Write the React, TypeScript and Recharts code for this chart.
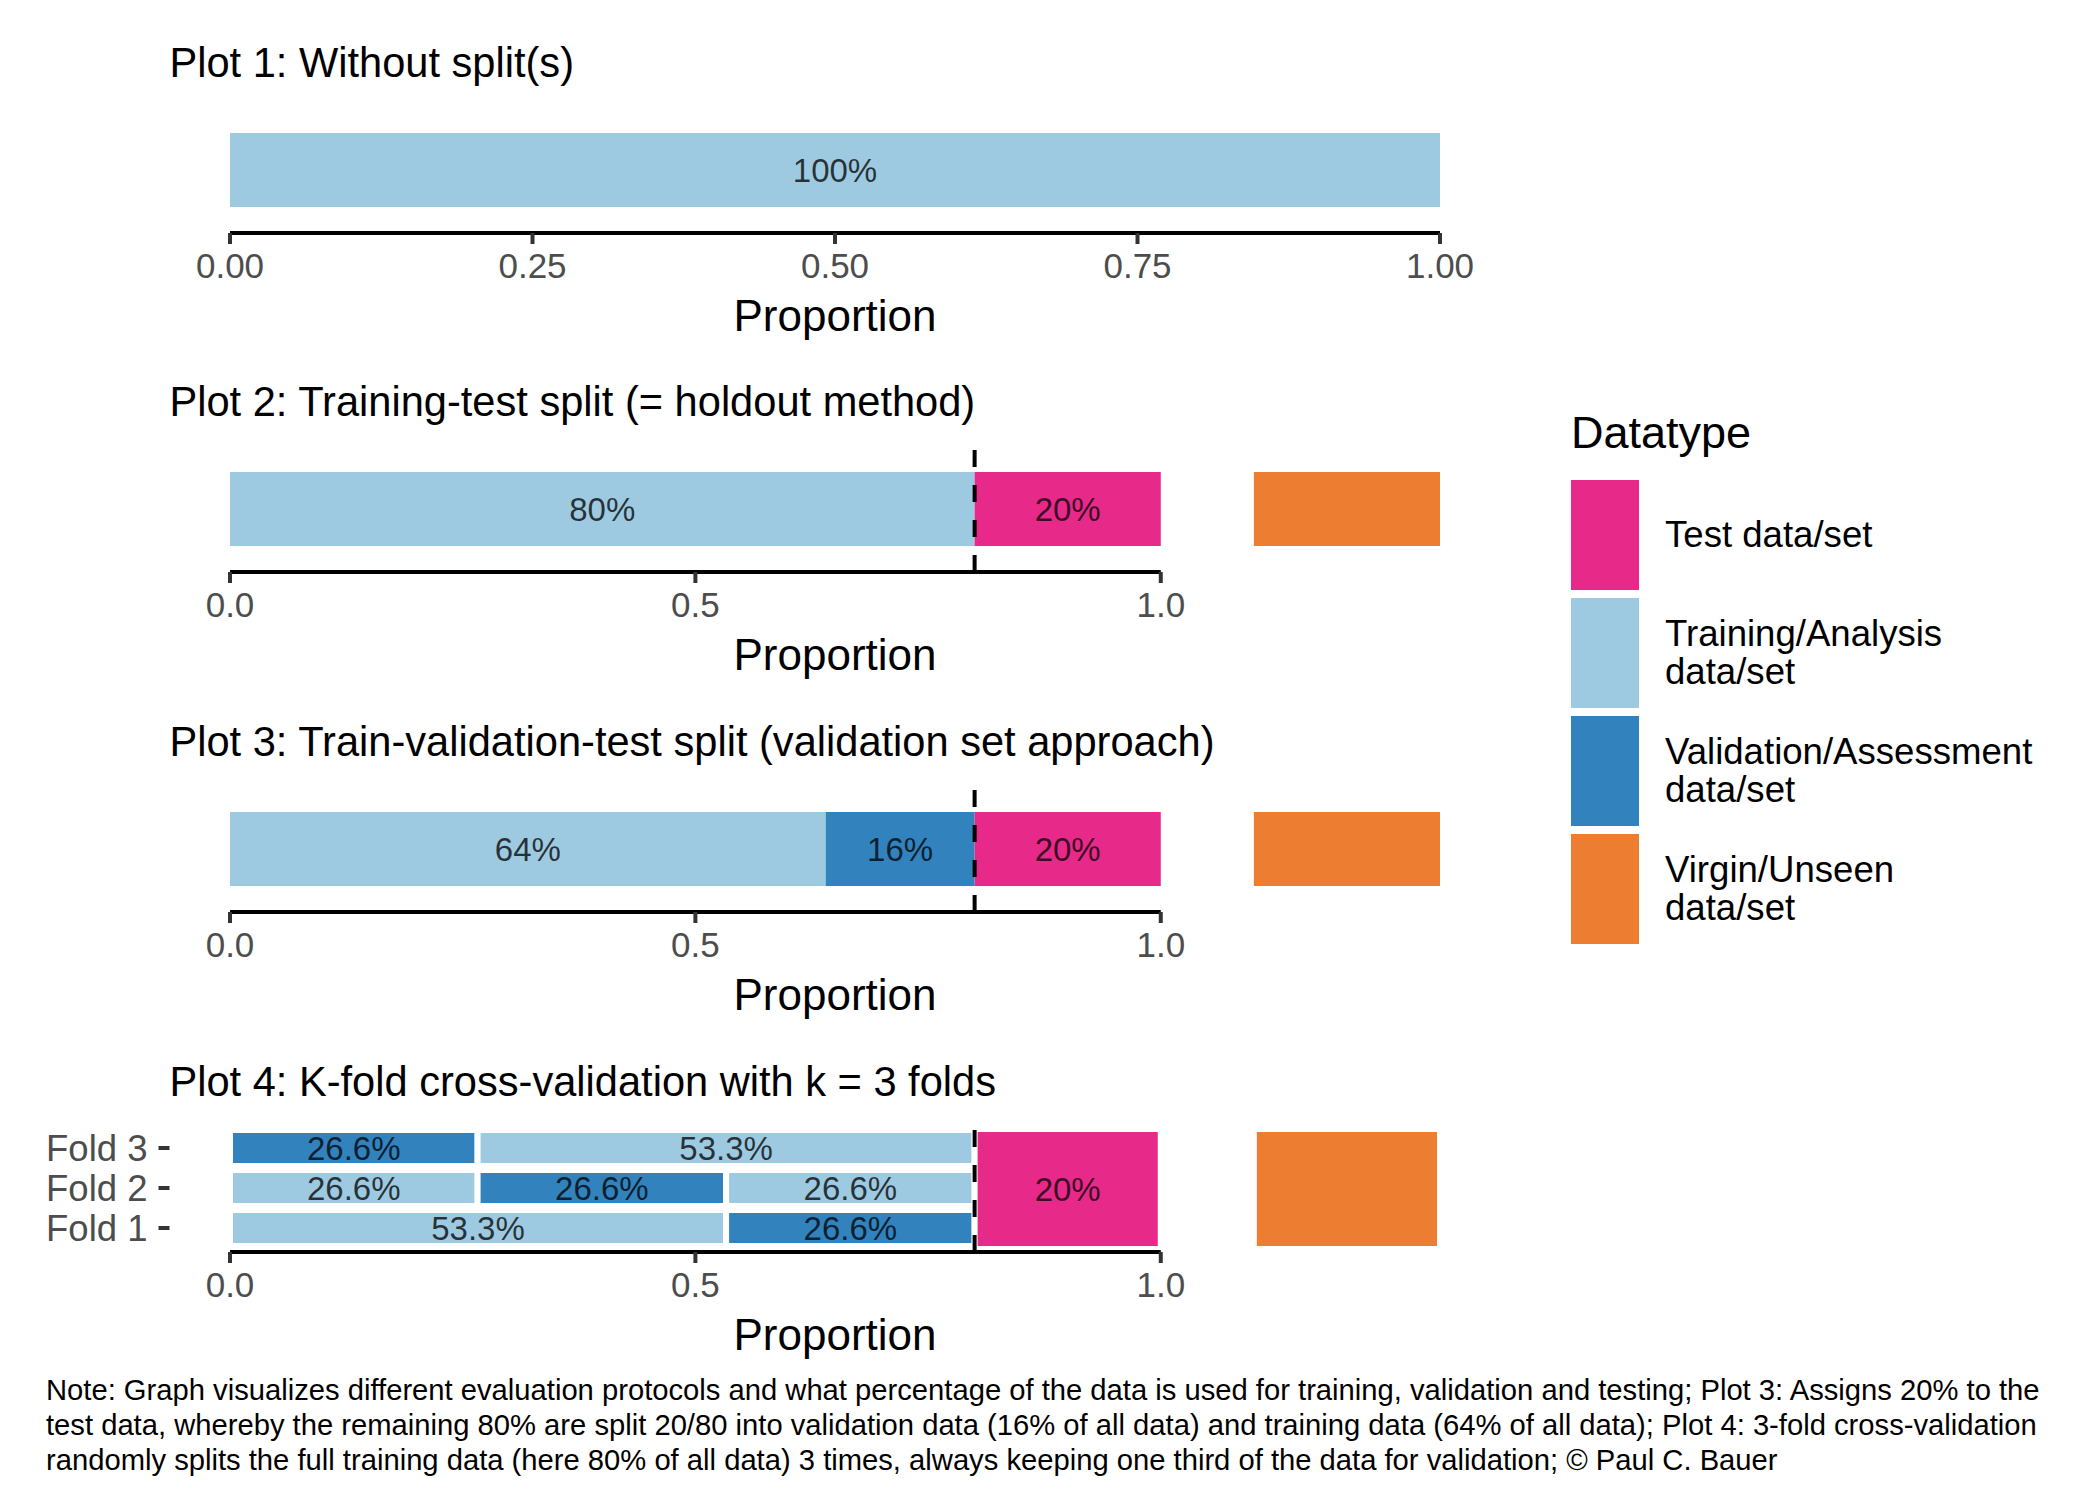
import React from "react"
import { BarChart, Bar, XAxis, YAxis, Cell, LabelList, ReferenceLine } from "recharts"

const FONT = "'Liberation Sans', Arial, Helvetica, sans-serif"

// legend: datatypes and their fills
const datatypes = ["test", "train", "validation", "virgin"]
const datatypeLabels = ["Test data/set", "Training/Analysis\ndata/set", "Validation/Assessment\ndata/set", "Virgin/Unseen\ndata/set"]
const datatypeColors = ["#E7298A", "#9ECAE1", "#3182BD", "#ED7D31"]

const plotTitles = [
  "Plot 1: Without split(s)",
  "Plot 2: Training-test split (= holdout method)",
  "Plot 3: Train-validation-test split (validation set approach)",
  "Plot 4: K-fold cross-validation with k = 3 folds",
]

// Plot 1
const p1Names = ["All"]
const p1Shares = [[1.0]]
const p1Types = [["train"]]
const p1Labels = [["100%"]]

// Plot 2
const p2Names = ["All"]
const p2Shares = [[0.8]]
const p2Types = [["train"]]
const p2Labels = [["80%"]]

// Plot 3
const p3Names = ["All"]
const p3Shares = [[0.64, 0.16]]
const p3Types = [["train", "validation"]]
const p3Labels = [["64%", "16%"]]

// Plot 4 (top row first)
const foldNames = ["Fold 3", "Fold 2", "Fold 1"]
const foldShares = [[0.266, 0.534], [0.266, 0.267, 0.267], [0.533, 0.267]]
const foldTypes = [["validation", "train"], ["train", "validation", "train"], ["train", "validation"]]
const foldLabels = [["26.6%", "53.3%"], ["26.6%", "26.6%", "26.6%"], ["53.3%", "26.6%"]]

// holdout parts shared by plots 2-4
const testRange = [0.8, 1.0]
const testLabel = "20%"
const virginRange = [1.1, 1.3]

const ticks1 = [0, 0.25, 0.5, 0.75, 1]
const ticks2 = [0, 0.5, 1]

const noteLines = [
  "Note: Graph visualizes different evaluation protocols and what percentage of the data is used for training, validation and testing; Plot 3: Assigns 20% to the",
  "test data, whereby the remaining 80% are split 20/80 into validation data (16% of all data) and training data (64% of all data); Plot 4: 3-fold cross-validation",
  "randomly splits the full training data (here 80% of all data) 3 times, always keeping one third of the data for validation; © Paul C. Bauer",
]

const colorOf = (t?: string) => {
  const i = datatypes.indexOf(t ?? "")
  return i < 0 ? "transparent" : datatypeColors[i]
}

// layout
const PANEL_LEFT = 169.5
const PANEL_W = 1331
const CHART_W = 1520
const PANEL_H = 126
const XAXIS_H = 110

function buildRows(names: string[], shares: number[][], types: string[][], labels: string[][], hold: boolean) {
  return names.map((name, r) => {
    const row: any = { name, grp: "all" }
    shares[r].forEach((v, i) => {
      row[`s${i}`] = v
      row[`t${i}`] = types[r][i]
      row[`l${i}`] = labels[r][i]
    })
    if (hold && r === 0) {
      row.h0 = testRange[0]
      row.h1 = testRange[1] - testRange[0]
      row.h2 = virginRange[0] - testRange[1]
      row.h3 = virginRange[1] - virginRange[0]
      row.ht0 = "none"; row.ht1 = "test"; row.ht2 = "none"; row.ht3 = "virgin"
      row.hl1 = testLabel
    }
    return row
  })
}

const renderLabel = (props: any) => {
  const { value } = props
  if (!value) return null
  const vb = props.viewBox ?? props
  return (
    <text
      x={vb.x + vb.width / 2}
      y={vb.y + vb.height / 2}
      textAnchor="middle"
      dominantBaseline="central"
      fontSize={33}
      fontFamily={FONT}
      fill="#000"
      fillOpacity={0.75}
    >
      {value}
    </text>
  )
}

const FoldTick = (props: any) => {
  const { x, y, payload } = props
  return (
    <text x={x} y={y} textAnchor="end" dominantBaseline="central" fontSize={36.5} fontFamily={FONT} fill="#4D4D4D">
      {payload.value}
    </text>
  )
}

interface PlotProps {
  title: string
  axisY: number
  names: string[]
  shares: number[][]
  types: string[][]
  labels: string[][]
  hold: boolean
  folds?: boolean
  ticks: number[]
  digits: number
  domain: [number, number]
}

function SplitPlot({ title, axisY, names, shares, types, labels, hold, folds, ticks, digits, domain }: PlotProps) {
  const data = buildRows(names, shares, types, labels, hold)
  const nSeg = Math.max(...shares.map((s) => s.length))
  const pad = folds ? { top: 2, bottom: 4 } : { top: 0, bottom: 0 }
  const rowSize = folds ? 40 : 74
  const holdSize = folds ? 120 : 74
  const stroke = folds ? "#ffffff" : "none"
  const strokeW = folds ? 6 : 0

  return (
    <>
      <div style={{ position: "absolute", left: PANEL_LEFT, top: axisY - 191, fontSize: 41.6, lineHeight: "42px", color: "#000", whiteSpace: "nowrap" }}>
        {title}
      </div>
      <div style={{ position: "absolute", left: 0, top: axisY - PANEL_H }}>
        <BarChart
          layout="vertical"
          width={CHART_W}
          height={PANEL_H + XAXIS_H}
          data={data}
          margin={{ top: 0, right: CHART_W - PANEL_LEFT - PANEL_W, bottom: 0, left: 0 }}
          barCategoryGap={0}
          barGap={0}
        >
          <XAxis
            type="number"
            domain={domain}
            ticks={ticks}
            allowDataOverflow
            interval={0}
            axisLine={false}
            tickLine={{ stroke: "#333333", strokeWidth: 4 }}
            tickSize={11}
            tickMargin={9}
            tick={{ fontSize: 35, fill: "#4D4D4D", fontFamily: FONT }}
            tickFormatter={(v: number) => v.toFixed(digits)}
            height={XAXIS_H}
            label={{ value: "Proportion", position: "insideBottom", offset: 12, fontSize: 44, fill: "#000", fontFamily: FONT }}
          />
          <YAxis yAxisId="all" type="category" dataKey="grp" allowDuplicatedCategory={false} hide width={0} />
          <YAxis
            yAxisId="rows"
            type="category"
            dataKey="name"
            width={PANEL_LEFT}
            padding={pad}
            interval={0}
            axisLine={false}
            tick={folds ? <FoldTick /> : false}
            tickLine={folds ? { stroke: "#333333", strokeWidth: 4 } : false}
            tickSize={11}
            tickMargin={11}
          />

          {Array.from({ length: nSeg }, (_, i) => (
            <Bar key={`s${i}`} dataKey={`s${i}`} stackId="rows" yAxisId="rows" barSize={rowSize} stroke={stroke} strokeWidth={strokeW} isAnimationActive={false}>
              {data.map((row, r) => (
                <Cell key={r} fill={colorOf(row[`t${i}`])} />
              ))}
              <LabelList dataKey={`l${i}`} content={renderLabel} />
            </Bar>
          ))}

          {hold &&
            [0, 1, 2, 3].map((i) => (
              <Bar key={`h${i}`} dataKey={`h${i}`} stackId="hold" yAxisId="all" barSize={holdSize} isAnimationActive={false}>
                {data.map((row, r) => {
                  const t = row[`ht${i}`]
                  const visible = t && t !== "none"
                  return <Cell key={r} fill={colorOf(t)} stroke={visible ? stroke : "none"} strokeWidth={strokeW} />
                })}
                <LabelList dataKey={`hl${i}`} content={renderLabel} />
              </Bar>
            ))}

          {/* x axis line, capped at 0..1 like the original */}
          <ReferenceLine yAxisId="all" position="end" segment={[{ x: 0, y: "all" }, { x: 1, y: "all" }]} stroke="#000" strokeWidth={4} />
          {hold && <ReferenceLine yAxisId="all" x={testRange[0]} stroke="#000" strokeWidth={4} strokeDasharray="17 18" />}
        </BarChart>
      </div>
    </>
  )
}

function DatatypeLegend() {
  return (
    <div style={{ position: "absolute", left: 1571, top: 411 }}>
      <div style={{ fontSize: 45, lineHeight: "44px", color: "#000", marginBottom: 25 }}>Datatype</div>
      {datatypes.map((t, i) => (
        <div key={t} style={{ display: "flex", alignItems: "center", height: 110, marginBottom: 8 }}>
          <div style={{ width: 68, height: 110, background: datatypeColors[i] }} />
          <div style={{ marginLeft: 26, fontSize: 36.6, lineHeight: "38px", color: "#000", whiteSpace: "pre" }}>{datatypeLabels[i]}</div>
        </div>
      ))}
    </div>
  )
}

export default function App() {
  return (
    <div style={{ position: "absolute", left: 0, top: 0, width: 2100, height: 1499, background: "#fff", fontFamily: FONT, overflow: "hidden" }}>
      <SplitPlot title={plotTitles[0]} axisY={233} names={p1Names} shares={p1Shares} types={p1Types} labels={p1Labels} hold={false} ticks={ticks1} digits={2} domain={[-0.05, 1.05]} />
      <SplitPlot title={plotTitles[1]} axisY={572} names={p2Names} shares={p2Shares} types={p2Types} labels={p2Labels} hold ticks={ticks2} digits={1} domain={[-0.065, 1.365]} />
      <SplitPlot title={plotTitles[2]} axisY={912} names={p3Names} shares={p3Shares} types={p3Types} labels={p3Labels} hold ticks={ticks2} digits={1} domain={[-0.065, 1.365]} />
      <SplitPlot title={plotTitles[3]} axisY={1252} names={foldNames} shares={foldShares} types={foldTypes} labels={foldLabels} hold folds ticks={ticks2} digits={1} domain={[-0.065, 1.365]} />
      <DatatypeLegend />
      <div style={{ position: "absolute", left: 46, top: 1373, fontSize: 29.2, lineHeight: "35px", color: "#000", whiteSpace: "pre" }}>
        {noteLines.join("\n")}
      </div>
    </div>
  )
}
